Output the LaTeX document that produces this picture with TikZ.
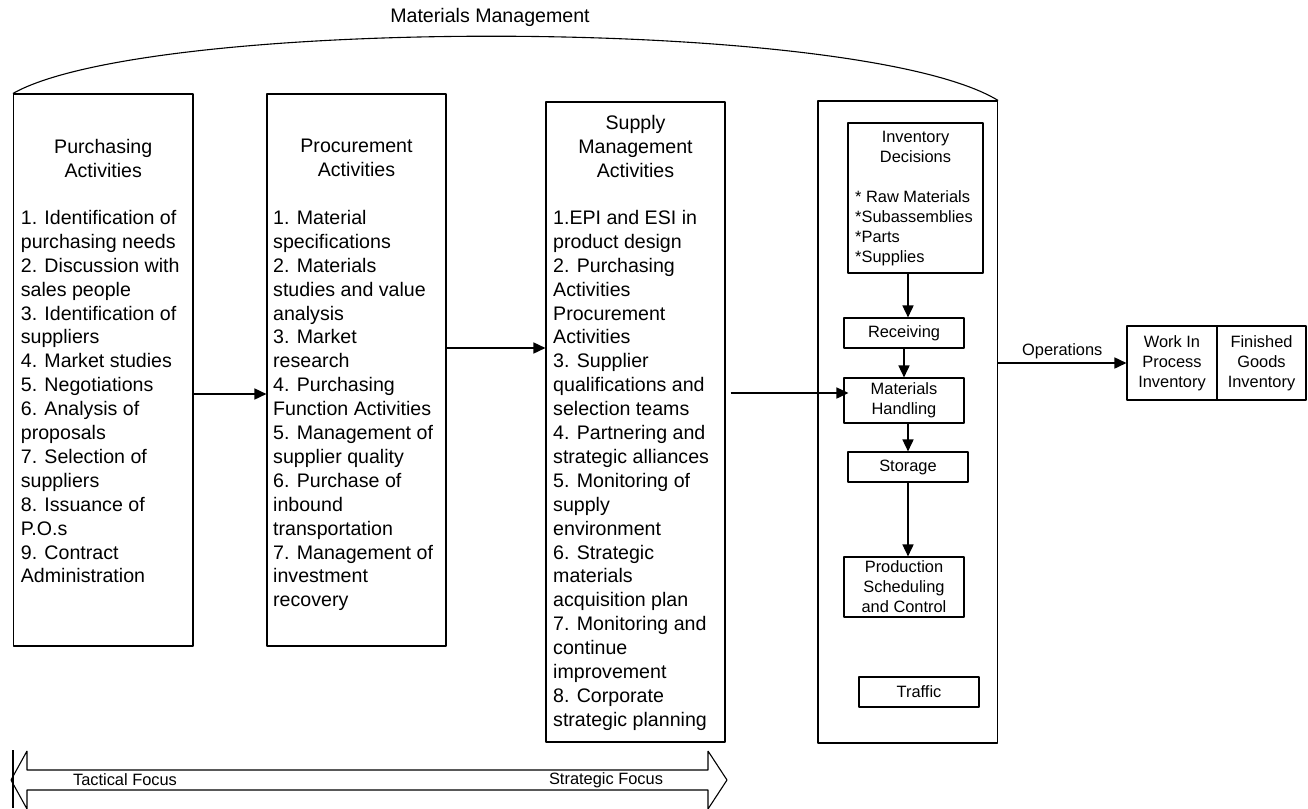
\documentclass[tikz,border=0pt]{standalone}
\usepackage{fontspec}
\setmainfont{Liberation Sans}
\usetikzlibrary{arrows.meta}

\begin{document}
\begin{tikzpicture}[x=1bp,y=-1bp,>={Triangle[length=12bp,width=11bp]},line join=bevel,
  bigfont/.style={font=\fontsize{19.6bp}{23.9bp}\selectfont},
  smallfont/.style={font=\fontsize{16.4bp}{20bp}\selectfont},
  panel/.style={draw,line width=1.1bp,inner sep=0pt},
  smallbox/.style={panel,smallfont,align=center},
  title/.style={bigfont,align=center,anchor=north,inner sep=0pt},
  list/.style={bigfont,align=left,anchor=north west,inner sep=0pt},
  conn/.style={line width=1.6bp}]
  \useasboundingbox (0,0) rectangle (1308,808);
  \clip (0,0) rectangle (1308,808);
%%
  % Node: materials management title
  \node[bigfont] (mmtitle) at (490,17) {Materials Management};
  % Node: purchasing
  \node[panel,minimum width=179.5bp,minimum height=552bp] (purbox) at (103.25,370) {};
  \node[title] (purtitle) at (103.25,139) {Purchasing\\Activities};
  \node[list] (purlist) at (20.7,210) {1. Identification of\\purchasing needs\\2. Discussion with\\sales people\\3. Identification of\\suppliers\\4. Market studies\\5. Negotiations\\6. Analysis of\\proposals\\7. Selection of\\suppliers\\8. Issuance of\\P.O.s\\9. Contract\\Administration};
  % Node: procurement
  \node[panel,minimum width=179bp,minimum height=552bp] (probox) at (356.5,370) {};
  \node[title] (protitle) at (356.5,139) {Procurement\\Activities};
  \node[list] (prolist) at (273,210) {1. Material\\specifications\\2. Materials\\studies and value\\analysis\\3. Market\\research\\4. Purchasing\\Function Activities\\5. Management of\\supplier quality\\6. Purchase of\\inbound\\transportation\\7. Management of\\investment\\recovery};
  % Node: supply management
  \node[panel,minimum width=179bp,minimum height=640bp] (supbox) at (635.5,422) {};
  \node[title] (suptitle) at (635.5,115) {Supply\\Management\\Activities};
  \node[list] (suplist) at (553,210) {1.EPI and ESI in\\product design\\2. Purchasing\\Activities\\Procurement\\Activities\\3. Supplier\\qualifications and\\selection teams\\4. Partnering and\\strategic alliances\\5. Monitoring of\\supply\\environment\\6. Strategic\\materials\\acquisition plan\\7. Monitoring and\\continue\\improvement\\8. Corporate\\strategic planning};
  % Node: container
  \node[panel,minimum width=179.5bp,minimum height=642bp] (cont) at (907.75,422) {};
  % Node: inventory decisions
  \node[panel,minimum width=135bp,minimum height=150bp] (inv) at (915.5,198) {};
  \node[smallfont,align=center,anchor=north,inner sep=0pt] (invtitle) at (915.5,131) {Inventory\\Decisions};
  \node[smallfont,align=left,anchor=north west,inner sep=0pt] (invlist) at (855,190) {* Raw Materials\\*Subassemblies\\*Parts\\*Supplies};
  % Node: receiving
  \node[smallbox,minimum width=120bp,minimum height=30bp] (rec) at (904,333) {Receiving};
  % Node: materials handling
  \node[smallbox,minimum width=120bp,minimum height=45bp] (mh) at (904,400.5) {Materials\\Handling};
  % Node: storage
  \node[smallbox,minimum width=120bp,minimum height=30bp] (sto) at (908,467) {Storage};
  % Node: production scheduling
  \node[smallbox,minimum width=120bp,minimum height=60bp] (prod) at (904,587) {Production\\Scheduling\\and Control};
  % Node: traffic
  \node[smallbox,minimum width=120bp,minimum height=30bp] (traf) at (919,692) {Traffic};
  % Node: work in process
  \node[smallbox,minimum width=90bp,minimum height=74bp] (wip) at (1172,363) {Work In\\Process\\Inventory};
  % Node: finished goods
  \node[smallbox,minimum width=89bp,minimum height=74bp] (fg) at (1261.5,363) {Finished\\Goods\\Inventory};
%%
  % Edge: purchasing -- container (arc)
  \draw[line width=1.1bp] (purbox.north west) .. controls (150,16) and (860,16) .. (cont.north east);
  % Edge: purchasing -> procurement
  \draw[->,conn] ([yshift=-24bp]purbox.east) -- ([yshift=-24bp]probox.west);
  % Edge: procurement -> supply
  \draw[->,conn] ([yshift=22bp]probox.east) -- ([yshift=22bp]probox.east -| supbox.west);
  % Edge: supply -> materials handling
  \draw[->,conn] ([xshift=5bp,yshift=29bp]supbox.east) -- ([xshift=5bp,yshift=29bp]supbox.east -| mh.west);
  % Edge: inventory -> receiving
  \draw[->,conn] ([xshift=-7.5bp]inv.south) -- ([xshift=4bp]rec.north);
  % Edge: receiving -> materials handling
  \draw[->,conn] (rec) -- (mh);
  % Edge: materials handling -> storage
  \draw[->,conn] ([xshift=4bp]mh.south) -- (sto.north);
  % Edge: storage -> production
  \draw[->,conn] (sto.south) -- ([xshift=4bp]prod.north);
  % Edge: container -> work in process
  \draw[->,conn] (wip.west -| cont.east) -- node[above,smallfont] (ops) {Operations} (wip.west);
%%
  % focus double arrow
  \draw[line width=1.1bp] (27,751) -- (11,780) -- (27,809) -- (27,790) -- (708,790) -- (708,809)
    -- (727,780) -- (708,751) -- (708,770) -- (27,770) -- cycle;
  \draw[line width=1.1bp] (13,750) -- (13,808);
  \node[smallfont] (tactical) at (125,780) {Tactical Focus};
  \node[smallfont] (strategic) at (606,780) {Strategic Focus};
%
\end{tikzpicture}
\end{document}
